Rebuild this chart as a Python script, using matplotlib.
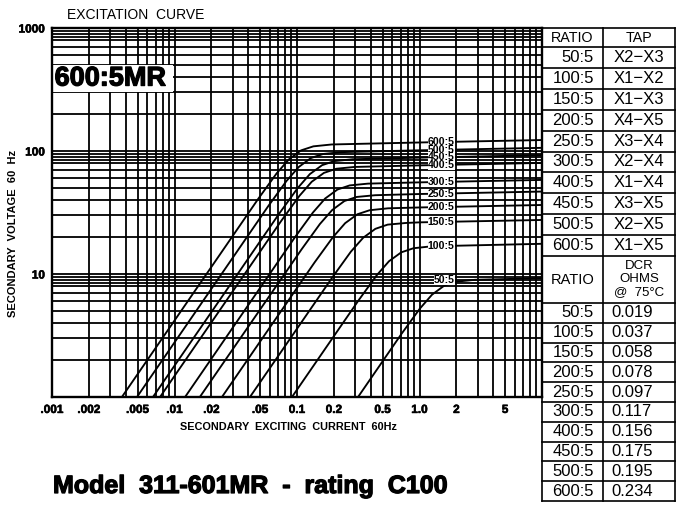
import matplotlib
matplotlib.use("Agg")
import matplotlib.pyplot as plt
from matplotlib.patches import Rectangle
from matplotlib.ticker import NullLocator
import matplotlib.patheffects as pe

plt.rcParams['font.family'] = ['Liberation Sans', 'DejaVu Sans']

# ---------------- data ----------------
curve_names = ["600:5", "500:5", "450:5", "400:5", "300:5",
               "250:5", "200:5", "150:5", "100:5", "50:5"]

current_600 = [0.00372, 0.0483, 0.0682, 0.0859, 0.108, 0.136, 0.192, 1.0, 10.0]
voltage_600 = [1.0, 40.9, 65.8, 85.5, 101.2, 109.1, 113.0, 117.3, 122.8]
current_500 = [0.00494, 0.0581, 0.0820, 0.1033, 0.130, 0.1637, 0.231, 1.0, 10.0]
voltage_500 = [1.0, 35.5, 57.0, 74.1, 87.7, 94.6, 97.9, 101.3, 106.1]
current_450 = [0.00667, 0.0716, 0.1012, 0.1274, 0.1603, 0.2018, 0.285, 1.0, 10.0]
voltage_450 = [1.0, 31.0, 49.9, 64.9, 76.7, 82.8, 85.7, 88.3, 92.5]
current_400 = [0.00762, 0.0741, 0.1047, 0.1318, 0.166, 0.2089, 0.2951, 1.0, 10.0]
voltage_400 = [1.0, 26.9, 43.2, 56.2, 66.4, 71.7, 74.2, 76.4, 80.0]
current_300 = [0.0122, 0.0955, 0.1349, 0.1698, 0.2138, 0.2692, 0.3802, 1.0, 10.0]
voltage_300 = [1.0, 19.7, 31.6, 41.1, 48.6, 52.5, 54.3, 55.6, 58.2]
current_250 = [0.0161, 0.1089, 0.1538, 0.1936, 0.2438, 0.3069, 0.4335, 1.0, 10.0]
voltage_250 = [1.0, 15.85, 25.5, 33.1, 39.2, 42.3, 43.7, 44.7, 46.8]
current_200 = [0.0244, 0.139, 0.1963, 0.2472, 0.3112, 0.3917, 0.5534, 1.0, 10.0]
voltage_200 = [1.0, 12.4, 19.9, 25.9, 30.6, 33.0, 34.2, 34.75, 36.4]
current_150 = [0.0413, 0.195, 0.2754, 0.3467, 0.4365, 0.5495, 0.7762, 1.0, 10.0]
voltage_150 = [1.0, 9.43, 15.2, 19.7, 23.3, 25.2, 26.0, 26.3, 27.5]
current_100 = [0.091, 0.317, 0.4477, 0.5636, 0.7096, 0.8933, 1.262, 10.0]
voltage_100 = [1.0, 6.08, 9.77, 12.7, 15.0, 16.2, 16.8, 17.6]
current_50 = [0.315, 0.7112, 1.005, 1.265, 1.592, 2.005, 2.831, 10.0]
voltage_50 = [1.0, 3.25, 5.22, 6.79, 8.04, 8.67, 8.97, 9.25]

curve_currents = [current_600, current_500, current_450, current_400, current_300,
                  current_250, current_200, current_150, current_100, current_50]
curve_voltages = [voltage_600, voltage_500, voltage_450, voltage_400, voltage_300,
                  voltage_250, voltage_200, voltage_150, voltage_100, voltage_50]
label_voltage = [118, 102, 89, 77, 56, 45, 35, 26.5, 16.9, 8.9]
label_current = 1.93

table_ratios = ["50:5", "100:5", "150:5", "200:5", "250:5",
                "300:5", "400:5", "450:5", "500:5", "600:5"]
table_taps = ["X2\u2212X3", "X1\u2212X2", "X1\u2212X3", "X4\u2212X5", "X3\u2212X4",
              "X2\u2212X4", "X1\u2212X4", "X3\u2212X5", "X2\u2212X5", "X1\u2212X5"]
table_dcr = ["0.019", "0.037", "0.058", "0.078", "0.097",
             "0.117", "0.156", "0.175", "0.195", "0.234"]

x_ticks = [0.001, 0.002, 0.005, 0.01, 0.02, 0.05, 0.1, 0.2, 0.5, 1.0, 2.0, 5.0]
x_ticklabels = [".001", ".002", ".005", ".01", ".02", ".05", "0.1", "0.2", "0.5", "1.0", "2", "5"]
y_ticks = [10, 100, 1000]
y_ticklabels = ["10", "100", "1000"]

# graph-paper rulings (multipliers within each decade)
x_grid_mult = [1, 2, 3, 4, 5, 6, 7, 8, 9]
y_grid_mult = [1, 2, 3, 4, 5, 6, 7, 8, 8.5, 9, 9.5]

# ---------------- figure ----------------
W, H = 677, 512
fig = plt.figure(figsize=(W / 100, H / 100), dpi=100)
fig.patch.set_facecolor("white")

def fx(px):
    return px / W

def fy(py):
    return 1 - py / H

heavy = [pe.withStroke(linewidth=0.9, foreground="black")]
semi = [pe.withStroke(linewidth=0.4, foreground="black")]

L, R, T, B = 52, 542, 28, 397
ax = fig.add_axes([fx(L), fy(B), (R - L) / W, (B - T) / H])
ax.set_xscale("log")
ax.set_yscale("log")
ax.set_xlim(0.001, 10)
ax.set_ylim(1, 1000)

grid_lw = 1.3
for k in [0.001, 0.01, 0.1, 1.0]:
    for m in x_grid_mult:
        v = m * k
        if 0.001 < v < 10:
            ax.axvline(v, color="black", lw=grid_lw, zorder=1)
for k in [1, 10, 100]:
    for m in y_grid_mult:
        v = m * k
        if 1 < v < 1000:
            ax.axhline(v, color="black", lw=grid_lw, zorder=1)

for s in ax.spines.values():
    s.set_linewidth(1.7)
    s.set_zorder(5)

for cur, vol in zip(curve_currents, curve_voltages):
    ax.plot(cur, vol, color="black", lw=1.35, zorder=2, solid_capstyle="butt")

for name, v in zip(curve_names, label_voltage):
    ax.text(label_current, v, name, ha="right", va="center", fontsize=7.6,
            fontweight="bold", zorder=4,
            bbox=dict(facecolor="white", edgecolor="none", pad=0.05))

# 600:5MR box
ax.add_patch(Rectangle((0.001, 300), 0.0098 - 0.001, 200, facecolor="white",
                       edgecolor="none", zorder=3))
ax.text(0.00105, 388, "600:5MR", ha="left", va="center", fontsize=19.5,
        fontweight="bold", zorder=4, path_effects=heavy)

ax.set_xticks(x_ticks)
ax.set_xticklabels(x_ticklabels)
ax.set_yticks(y_ticks)
ax.set_yticklabels(y_ticklabels)
ax.xaxis.set_minor_locator(NullLocator())
ax.yaxis.set_minor_locator(NullLocator())
ax.tick_params(axis="both", length=0)
ax.tick_params(axis="x", pad=5, labelsize=8.5)
ax.tick_params(axis="y", pad=5, labelsize=8.5)
for t in ax.get_xticklabels() + ax.get_yticklabels():
    t.set_fontweight("bold")
    t.set_path_effects(semi)

# texts
fig.text(fx(67), fy(15), "EXCITATION  CURVE", ha="left", va="center", fontsize=10)
fig.text(fx(288), fy(427), "SECONDARY  EXCITING  CURRENT  60Hz", ha="center", va="center",
         fontsize=7.8, fontweight="bold")
fig.text(fx(13), fy(233), "SECONDARY  VOLTAGE  60  Hz", ha="center", va="center",
         rotation=90, fontsize=8, fontweight="bold")
fig.text(fx(53), fy(486), "Model  311-601MR  -  rating  C100", ha="left", va="center",
         fontsize=18, fontweight="bold", path_effects=heavy)

# table
tax = fig.add_axes([0, 0, 1, 1])
tax.set_xlim(0, W)
tax.set_ylim(H, 0)
tax.axis("off")
tx0, tx1, tx2 = 542, 603, 675
tlw = 1.2
top_rows = [28, 47] + [47 + 20.9 * (i + 1) for i in range(10)]
low_rows = [303 + 19.8 * i for i in range(11)]
for y in top_rows + low_rows:
    tax.plot([tx0, tx2], [y, y], color="black", lw=tlw)
for x in [tx0, tx1, tx2]:
    tax.plot([x, x], [28, low_rows[-1]], color="black", lw=tlw)

fs = 12
tax.text((tx0 + tx1) / 2, 37.5, "RATIO", ha="center", va="center", fontsize=10.3)
tax.text((tx1 + tx2) / 2, 37.5, "TAP", ha="center", va="center", fontsize=10.3)
for i, (r, t) in enumerate(zip(table_ratios, table_taps)):
    yc = (top_rows[i + 1] + top_rows[i + 2]) / 2
    tax.text(594, yc, r, ha="right", va="center", fontsize=fs)
    tax.text((tx1 + tx2) / 2, yc, t, ha="center", va="center", fontsize=fs)
tax.text((tx0 + tx1) / 2, 280, "RATIO", ha="center", va="center", fontsize=10.5)
tax.text((tx1 + tx2) / 2, 266, "DCR", ha="center", va="center", fontsize=9.5)
tax.text((tx1 + tx2) / 2, 279, "OHMS", ha="center", va="center", fontsize=9.5)
tax.text((tx1 + tx2) / 2, 292, "@  75\u00b0C", ha="center", va="center", fontsize=9.5)
for i, (r, d) in enumerate(zip(table_ratios, table_dcr)):
    yc = (low_rows[i] + low_rows[i + 1]) / 2
    tax.text(594, yc, r, ha="right", va="center", fontsize=fs)
    tax.text(611, yc, d, ha="left", va="center", fontsize=fs)

fig.savefig("out.png", dpi=100)
